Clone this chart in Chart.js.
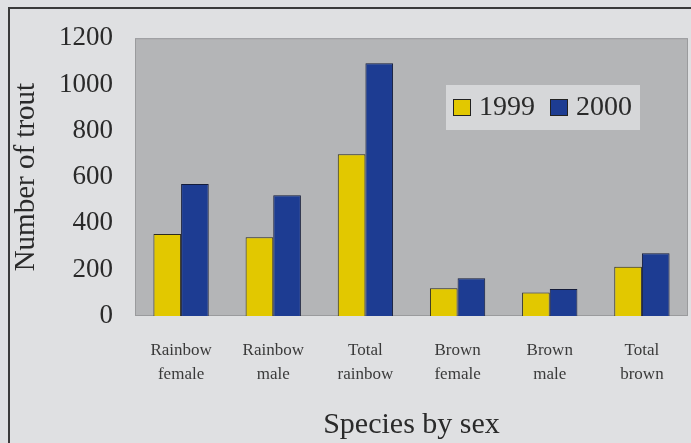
<!DOCTYPE html>
<html>
<head>
<meta charset="utf-8">
<script src="https://cdn.jsdelivr.net/npm/chart.js@4"></script>
<style>
  html, body { margin: 0; padding: 0; background: #dfe0e2; }
  #wrap { width: 691px; height: 443px; position: relative; }
</style>
</head>
<body>
<div id="wrap"><canvas id="chart" width="691" height="443"></canvas></div>
<script>
const categories = [
    ['Rainbow', 'female'], ['Rainbow', 'male'], ['Total', 'rainbow'],
    ['Brown', 'female'], ['Brown', 'male'], ['Total', 'brown']
];
const years = ['1999', '2000'];
const values1999 = [354, 340, 699, 120, 101, 213];
const values2000 = [570, 522, 1092, 163, 117, 271];
const yTicks = [0, 200, 400, 600, 800, 1000, 1200];

const yellow = '#e2c800';
const blue = '#1d3c92';
const serif = "'Liberation Serif', 'DejaVu Serif', serif";

// frame, plot background and the boxed legend
const decor = {
    id: 'decor',
    beforeDraw(chart) {
        const ctx = chart.ctx;
        const a = chart.chartArea;
        ctx.save();
        ctx.fillStyle = '#dfe0e2';
        ctx.fillRect(0, 0, chart.width, chart.height);
        ctx.strokeStyle = '#3a3a3a';
        ctx.lineWidth = 2;
        ctx.strokeRect(9, 8, chart.width + 10, chart.height + 10);
        ctx.fillStyle = '#b4b5b7';
        ctx.fillRect(a.left, a.top, a.right - a.left, a.bottom - a.top);
        ctx.strokeStyle = '#9a9b9d';
        ctx.lineWidth = 1;
        ctx.strokeRect(a.left + 0.5, a.top + 0.5, a.right - a.left - 1, a.bottom - a.top - 1);
        ctx.restore();
    },
    afterDraw(chart) {
        const ctx = chart.ctx;
        ctx.save();
        ctx.fillStyle = '#d6d7d9';
        ctx.fillRect(446, 85, 194, 45);
        ctx.font = '28px ' + serif;
        ctx.textBaseline = 'middle';
        let x = 453;
        chart.data.datasets.forEach(ds => {
            ctx.fillStyle = ds.backgroundColor;
            ctx.fillRect(x, 99, 18, 17);
            ctx.strokeStyle = '#222';
            ctx.lineWidth = 1;
            ctx.strokeRect(x + 0.5, 99.5, 17, 16);
            ctx.fillStyle = '#2a2a2a';
            ctx.fillText(ds.label, x + 26, 108);
            x += 26 + ctx.measureText(ds.label).width + 15;
        });
        ctx.restore();
    }
};

new Chart(document.getElementById('chart').getContext('2d'), {
    type: 'bar',
    data: {
        labels: categories,
        datasets: [
            { label: years[0], data: values1999, backgroundColor: yellow, borderColor: '#2b2a20', borderWidth: 1 },
            { label: years[1], data: values2000, backgroundColor: blue, borderColor: '#141c3a', borderWidth: 1 }
        ]
    },
    options: {
        responsive: false,
        animation: false,
        categoryPercentage: 0.6,
        barPercentage: 1.0,
        layout: { padding: { left: 9, top: 38, right: 3, bottom: 0 } },
        plugins: { legend: { display: false }, tooltip: { enabled: false } },
        scales: {
            x: {
                grid: { display: false, drawTicks: false },
                border: { display: false },
                ticks: { color: '#3a3a3a', font: { family: serif, size: 17, lineHeight: 1.45 }, padding: 22, maxRotation: 0 },
                title: { display: true, text: 'Species by sex', color: '#2a2a2a', font: { family: serif, size: 30 }, padding: { top: 8, bottom: 0 } },
                afterFit(scale) { scale.height = 127; }
            },
            y: {
                min: 0, max: 1200,
                afterBuildTicks(scale) { scale.ticks = yTicks.map(v => ({ value: v })); },
                grid: { display: false, drawTicks: false },
                border: { display: false },
                ticks: { color: '#2a2a2a', font: { family: serif, size: 27 }, padding: 22, callback: v => String(v) },
                title: { display: true, text: 'Number of trout', color: '#2a2a2a', font: { family: serif, size: 29 }, padding: { top: 0, bottom: 0 } },
                afterFit(scale) { scale.width = 126; }
            }
        }
    },
    plugins: [decor]
});
</script>
</body>
</html>
